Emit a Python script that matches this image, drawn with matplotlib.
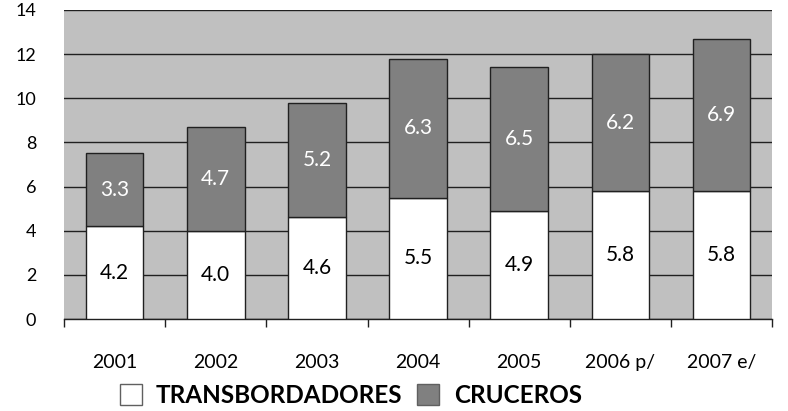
import numpy as np
import matplotlib
matplotlib.use("Agg")
from matplotlib import pyplot as plt
from matplotlib.patches import Patch

years = ["2001", "2002", "2003", "2004", "2005", "2006 p/", "2007 e/"]
transbordadores = [4.2, 4.0, 4.6, 5.5, 4.9, 5.8, 5.8]
cruceros = [3.3, 4.7, 5.2, 6.3, 6.5, 6.2, 6.9]

plt.rcParams['font.family'] = ['Lato', 'DejaVu Sans']

fig = plt.figure(figsize=(7.88, 4.11), dpi=100)
ax = fig.add_axes([0.0812, 0.2238, 0.8988, 0.7519])
ax.set_facecolor('#c0c0c0')

x = np.arange(len(years))
w = 0.57
b1 = ax.bar(x, transbordadores, w, color='white', edgecolor='#202020', linewidth=1, zorder=3)
b2 = ax.bar(x, cruceros, w, bottom=transbordadores, color='#808080',
            edgecolor='#202020', linewidth=1, zorder=3)

for i in range(len(years)):
    ax.text(x[i], transbordadores[i] / 2, f"{transbordadores[i]:.1f}",
            ha='center', va='center', fontsize=15, color='black', zorder=4)
    ax.text(x[i], transbordadores[i] + cruceros[i] / 2, f"{cruceros[i]:.1f}",
            ha='center', va='center', fontsize=15, color='white', zorder=4)

ax.set_xlim(-0.5, len(years) - 0.5)
ax.set_ylim(0, 14)
ax.set_yticks(range(0, 15, 2))
ax.yaxis.grid(True, color='#202020', linewidth=1)
ax.set_axisbelow(True)
ax.tick_params(axis='y', length=0, pad=20, labelsize=13)

ax.set_xticks(x)
ax.set_xticklabels(years)
ax.set_xticks(np.arange(-0.5, len(years), 1), minor=True)
ax.tick_params(axis='x', which='major', length=0, pad=25, labelsize=14)
ax.tick_params(axis='x', which='minor', length=6, width=1, color='#202020')

for s in ['top', 'right', 'left']:
    ax.spines[s].set_visible(False)
ax.spines['bottom'].set_color('#202020')
ax.spines['bottom'].set_linewidth(1)

handles = [Patch(facecolor='white', edgecolor='#606060', label='TRANSBORDADORES'),
           Patch(facecolor='#808080', edgecolor='#606060', label='CRUCEROS')]
fig.legend(handles=handles, loc='center', bbox_to_anchor=(0.445, 0.038), ncol=2,
           frameon=False, prop={'size': 17.5, 'weight': 'bold'},
           handlelength=0.9, handleheight=0.9, handletextpad=0.6, columnspacing=0.6)

fig.savefig('out.png', dpi=100)
